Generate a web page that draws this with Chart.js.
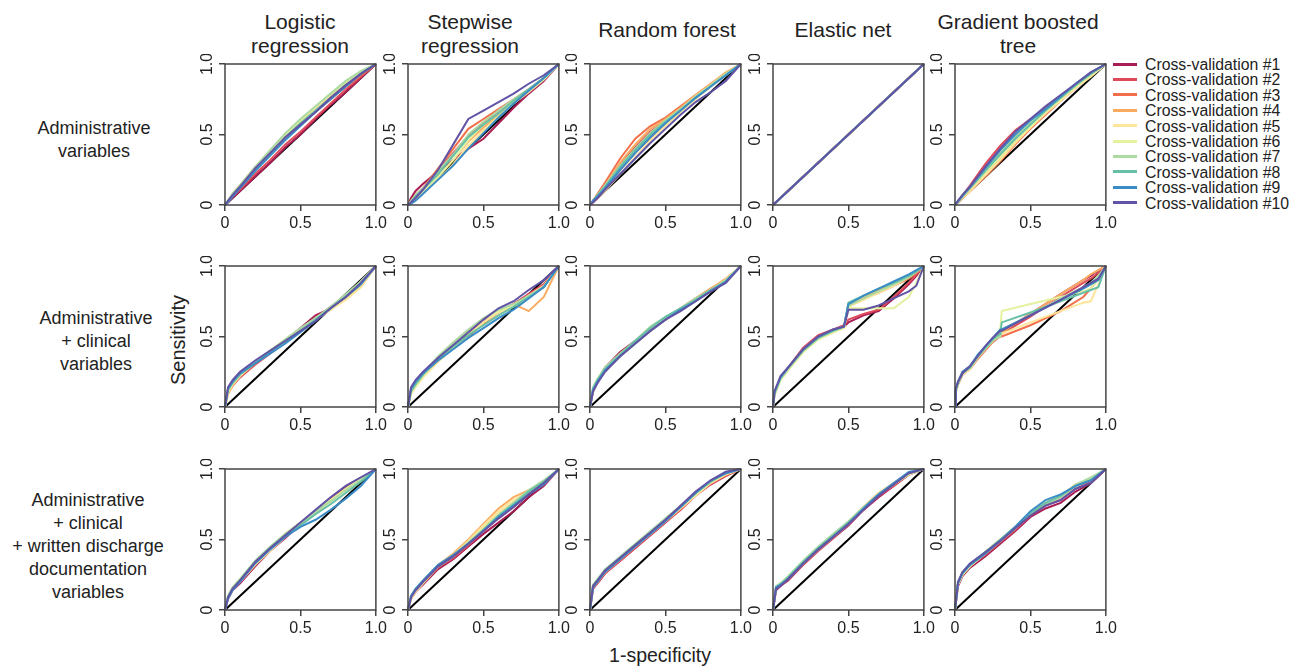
<!DOCTYPE html>
<html>
<head>
<meta charset="utf-8">
<script src="https://cdn.jsdelivr.net/npm/chart.js@4.4.1/dist/chart.umd.min.js"></script>
<style>
  body { margin: 0; background: #fff; }
  #fig { position: relative; width: 1298px; height: 667px; font-family: 'Liberation Sans', Arial, sans-serif; color: #222; }
  #fig div { position: absolute; white-space: nowrap; }
  #fig canvas { position: absolute; }
</style>
</head>
<body>
<div id="fig"></div>
<script>
// ---- data ----
const modelNames = ['Logistic\nregression', 'Stepwise\nregression', 'Random forest', 'Elastic net', 'Gradient boosted\ntree'];
const rowNames = ['Administrative\nvariables', 'Administrative\n+ clinical\nvariables', 'Administrative\n+ clinical\n+ written discharge\ndocumentation\nvariables'];
const cvLabels = ['Cross-validation #1', 'Cross-validation #2', 'Cross-validation #3', 'Cross-validation #4', 'Cross-validation #5',
  'Cross-validation #6', 'Cross-validation #7', 'Cross-validation #8', 'Cross-validation #9', 'Cross-validation #10'];
const tickValues = [0, 0.5, 1];
const tickLabels = ['0', '0.5', '1.0'];
const chanceLine = [0, 1];

// 1-specificity grid shared by most panels
const fprGrid = [0, .02, .05, .1, .2, .3, .4, .5, .6, .7, .8, .9, 1];
const fprDiag = [0, 1];
const fprClinEn = [0, .01, .05, .1, .2, .3, .4, .47, .5, .6, .7, .8, .9, .95, 1];
const fprClinGbt = [0, .005, .02, .05, .1, .15, .2, .25, .3, .31, .5, .7, .85, .9, .95, 1];

// sensitivity, one row per cross-validation fold
const tprAdmLr = [
  [0,.02,.05,.10,.20,.30,.41,.50,.61,.71,.80,.90,1],
  [0,.02,.06,.11,.22,.32,.43,.52,.62,.72,.82,.91,1],
  [0,.03,.07,.13,.25,.36,.47,.57,.66,.75,.84,.92,1],
  [0,.03,.08,.14,.27,.38,.49,.59,.68,.77,.86,.94,1],
  [0,.03,.07,.13,.25,.37,.48,.58,.68,.77,.86,.94,1],
  [0,.03,.07,.13,.26,.38,.50,.60,.70,.79,.87,.95,1],
  [0,.03,.08,.14,.27,.39,.51,.61,.70,.79,.88,.95,1],
  [0,.03,.07,.13,.25,.36,.48,.58,.67,.76,.85,.93,1],
  [0,.02,.06,.12,.24,.35,.46,.56,.66,.75,.84,.93,1],
  [0,.03,.07,.13,.26,.37,.48,.57,.66,.76,.85,.93,1]
];
const tprAdmSw = [
  [0,.05,.10,.15,.24,.32,.40,.47,.58,.69,.79,.88,1],
  [0,.03,.07,.12,.25,.37,.49,.58,.66,.74,.82,.90,1],
  [0,.03,.07,.12,.26,.40,.54,.61,.68,.75,.82,.90,1],
  [0,.02,.05,.10,.20,.32,.45,.55,.64,.73,.81,.90,1],
  [0,.01,.04,.09,.18,.29,.42,.53,.63,.72,.80,.89,1],
  [0,.02,.05,.10,.20,.32,.46,.57,.65,.73,.81,.89,1],
  [0,.03,.07,.12,.24,.36,.50,.59,.67,.75,.82,.90,1],
  [0,.02,.06,.11,.22,.35,.48,.57,.65,.74,.82,.90,1],
  [0,.01,.03,.08,.18,.28,.40,.51,.62,.72,.81,.90,1],
  [0,.02,.05,.11,.25,.43,.61,.67,.73,.79,.86,.92,1]
];
const tprAdmRf = [
  [0,.02,.05,.11,.25,.37,.48,.58,.68,.77,.85,.93,1],
  [0,.03,.07,.14,.29,.41,.52,.60,.68,.77,.85,.93,1],
  [0,.03,.08,.16,.33,.47,.56,.62,.70,.78,.86,.93,1],
  [0,.03,.07,.14,.30,.43,.54,.61,.69,.78,.86,.94,1],
  [0,.02,.05,.10,.22,.34,.46,.56,.66,.75,.84,.92,1],
  [0,.02,.06,.12,.25,.37,.49,.58,.67,.77,.85,.93,1],
  [0,.03,.07,.14,.28,.40,.51,.60,.68,.77,.85,.93,1],
  [0,.03,.07,.13,.27,.39,.50,.59,.67,.76,.84,.92,1],
  [0,.03,.06,.12,.25,.37,.48,.58,.67,.76,.84,.92,1],
  [0,.02,.05,.11,.22,.33,.44,.54,.64,.73,.80,.88,1]
];
const tprAdmEn = [
  [0,1],[0,1],[0,1],[0,1],[0,1],[0,1],[0,1],[0,1],[0,1],[0,1]
];
const tprAdmGbt = [
  [0,.02,.05,.11,.24,.36,.47,.57,.66,.75,.84,.92,1],
  [0,.03,.07,.14,.29,.42,.53,.61,.69,.77,.85,.93,1],
  [0,.02,.05,.10,.20,.31,.43,.54,.64,.74,.83,.92,1],
  [0,.02,.05,.10,.21,.33,.45,.55,.65,.75,.84,.92,1],
  [0,.02,.05,.10,.21,.32,.44,.55,.65,.74,.83,.91,1],
  [0,.03,.06,.12,.23,.34,.46,.56,.66,.75,.84,.92,1],
  [0,.03,.07,.13,.25,.37,.48,.58,.67,.76,.85,.93,1],
  [0,.02,.06,.12,.24,.36,.47,.57,.67,.76,.85,.93,1],
  [0,.03,.07,.13,.26,.39,.50,.60,.68,.77,.86,.94,1],
  [0,.03,.07,.13,.27,.40,.52,.61,.70,.78,.86,.94,1]
];

const tprClinLr = [
  [0,.11,.16,.22,.31,.39,.47,.56,.65,.70,.78,.87,1],
  [0,.10,.15,.21,.30,.38,.46,.55,.63,.71,.79,.87,1],
  [0,.12,.17,.23,.31,.39,.46,.54,.62,.70,.77,.86,1],
  [0,.09,.15,.22,.31,.40,.47,.54,.62,.69,.77,.85,1],
  [0,.10,.16,.22,.32,.40,.48,.55,.62,.69,.76,.85,1],
  [0,.11,.17,.23,.32,.40,.47,.55,.62,.70,.79,.89,1],
  [0,.12,.18,.24,.32,.40,.48,.56,.63,.71,.80,.89,1],
  [0,.12,.17,.23,.31,.39,.46,.54,.62,.70,.78,.87,1],
  [0,.13,.18,.24,.31,.38,.45,.53,.61,.70,.78,.87,1],
  [0,.14,.19,.25,.33,.40,.47,.54,.61,.70,.78,.88,1]
];
const tprClinSw = [
  [0,.12,.17,.23,.35,.44,.54,.62,.68,.73,.80,.87,1],
  [0,.11,.16,.23,.34,.44,.53,.61,.68,.73,.80,.87,1],
  [0,.12,.17,.24,.33,.42,.50,.59,.67,.72,.79,.86,1],
  [0,.10,.16,.23,.33,.42,.51,.60,.68,.73,.68,.78,1],
  [0,.09,.14,.21,.32,.42,.51,.60,.67,.72,.79,.86,1],
  [0,.10,.15,.22,.35,.45,.54,.62,.68,.72,.78,.85,1],
  [0,.12,.17,.24,.36,.46,.55,.63,.69,.73,.79,.85,1],
  [0,.11,.16,.23,.34,.43,.51,.58,.65,.71,.78,.85,1],
  [0,.13,.18,.24,.33,.41,.49,.56,.63,.69,.77,.85,1],
  [0,.14,.19,.25,.35,.44,.53,.62,.70,.75,.83,.90,1]
];
const tprClinRf = [
  [0,.12,.19,.28,.39,.47,.55,.62,.69,.76,.83,.90,1],
  [0,.11,.18,.27,.38,.46,.55,.62,.69,.76,.83,.90,1],
  [0,.12,.19,.27,.37,.46,.55,.63,.70,.77,.84,.90,1],
  [0,.11,.18,.26,.36,.45,.54,.62,.70,.77,.84,.91,1],
  [0,.12,.18,.26,.36,.45,.54,.62,.69,.76,.83,.90,1],
  [0,.13,.19,.27,.37,.46,.56,.63,.70,.76,.83,.90,1],
  [0,.14,.20,.28,.38,.47,.57,.64,.70,.77,.83,.90,1],
  [0,.13,.19,.27,.37,.47,.56,.64,.70,.76,.83,.89,1],
  [0,.12,.18,.26,.36,.45,.54,.62,.69,.75,.82,.89,1],
  [0,.11,.17,.25,.36,.45,.54,.62,.68,.75,.82,.88,1]
];
const tprClinEn = [
  [0,.09,.20,.27,.41,.50,.55,.57,.60,.65,.68,.77,.87,.93,1],
  [0,.10,.21,.28,.42,.51,.55,.58,.62,.66,.69,.78,.88,.94,1],
  [0,.09,.20,.27,.40,.49,.54,.57,.72,.77,.81,.86,.91,.95,1],
  [0,.10,.21,.27,.40,.49,.54,.56,.73,.78,.83,.88,.93,.96,1],
  [0,.09,.19,.26,.39,.48,.53,.56,.71,.76,.81,.86,.92,.96,1],
  [0,.08,.19,.26,.39,.48,.53,.56,.70,.70,.70,.70,.78,.88,1],
  [0,.09,.20,.27,.40,.49,.54,.57,.72,.77,.82,.87,.92,.96,1],
  [0,.10,.21,.28,.40,.49,.54,.57,.74,.79,.84,.88,.93,.96,1],
  [0,.11,.21,.28,.41,.50,.55,.57,.73,.79,.84,.89,.94,.97,1],
  [0,.11,.22,.28,.41,.50,.55,.57,.69,.69,.72,.77,.82,.86,1]
];
const tprClinGbt = [
  [0,.11,.16,.23,.28,.35,.41,.47,.52,.53,.66,.80,.90,.93,.97,1],
  [0,.12,.17,.24,.29,.36,.42,.48,.52,.52,.64,.78,.88,.91,.95,1],
  [0,.11,.16,.23,.27,.34,.40,.46,.50,.50,.58,.68,.78,.84,.91,1],
  [0,.12,.18,.25,.29,.36,.42,.49,.53,.53,.66,.80,.90,.94,.97,1],
  [0,.10,.16,.23,.27,.35,.41,.47,.52,.52,.60,.68,.74,.75,.87,1],
  [0,.11,.17,.24,.28,.36,.42,.48,.55,.68,.73,.78,.82,.84,.91,1],
  [0,.12,.17,.24,.28,.35,.41,.47,.50,.55,.65,.77,.85,.88,.93,1],
  [0,.11,.17,.24,.28,.36,.42,.48,.52,.60,.67,.75,.81,.83,.85,1],
  [0,.13,.18,.25,.29,.37,.43,.49,.55,.55,.65,.76,.84,.87,.90,1],
  [0,.13,.18,.24,.29,.36,.43,.49,.54,.54,.65,.76,.85,.88,.91,1]
];

const tprDocLr = [
  [0,.08,.14,.19,.31,.42,.51,.61,.70,.79,.87,.93,1],
  [0,.09,.14,.20,.32,.43,.52,.61,.69,.78,.86,.93,1],
  [0,.09,.15,.21,.33,.43,.53,.62,.70,.78,.86,.93,1],
  [0,.08,.14,.21,.33,.44,.54,.62,.70,.78,.85,.92,1],
  [0,.09,.15,.20,.32,.42,.52,.61,.69,.77,.85,.92,1],
  [0,.10,.16,.22,.34,.44,.53,.62,.70,.78,.86,.93,1],
  [0,.10,.16,.22,.35,.45,.54,.62,.70,.77,.85,.92,1],
  [0,.09,.15,.21,.34,.44,.53,.60,.68,.75,.83,.91,1],
  [0,.08,.14,.20,.33,.43,.52,.59,.64,.71,.79,.88,1],
  [0,.09,.15,.21,.34,.44,.53,.62,.71,.80,.88,.94,1]
];
const tprDocSw = [
  [0,.08,.13,.18,.29,.36,.45,.54,.62,.70,.80,.88,1],
  [0,.08,.13,.19,.30,.37,.46,.56,.65,.73,.82,.89,1],
  [0,.09,.14,.20,.31,.39,.48,.58,.68,.76,.84,.90,1],
  [0,.08,.14,.20,.32,.40,.50,.61,.72,.80,.85,.90,1],
  [0,.08,.13,.19,.31,.39,.49,.60,.70,.78,.84,.90,1],
  [0,.09,.14,.20,.31,.38,.48,.58,.68,.76,.84,.91,1],
  [0,.10,.15,.21,.32,.39,.48,.57,.67,.76,.85,.92,1],
  [0,.09,.14,.20,.31,.38,.47,.57,.67,.75,.84,.91,1],
  [0,.10,.15,.21,.32,.39,.47,.56,.66,.74,.82,.89,1],
  [0,.09,.14,.20,.31,.38,.47,.56,.65,.73,.82,.90,1]
];
const tprDocRf = [
  [0,.15,.19,.26,.35,.44,.53,.62,.72,.82,.90,.96,1],
  [0,.16,.19,.26,.35,.44,.53,.62,.71,.81,.89,.95,1],
  [0,.16,.20,.27,.36,.45,.54,.63,.72,.82,.90,.96,1],
  [0,.17,.21,.28,.37,.46,.55,.64,.73,.83,.91,.97,1],
  [0,.16,.20,.27,.36,.45,.54,.63,.72,.81,.90,.96,1],
  [0,.17,.21,.28,.37,.46,.55,.64,.73,.82,.91,.97,1],
  [0,.18,.22,.29,.38,.47,.56,.65,.74,.83,.91,.97,1],
  [0,.17,.21,.28,.37,.46,.55,.64,.73,.83,.91,.97,1],
  [0,.16,.20,.27,.36,.45,.54,.63,.73,.83,.92,.97,1],
  [0,.17,.21,.28,.37,.46,.55,.64,.74,.84,.92,.98,1]
];
const tprDocEn = [
  [0,.14,.17,.21,.32,.42,.51,.60,.71,.80,.88,.96,1],
  [0,.15,.17,.22,.32,.42,.51,.61,.71,.81,.88,.96,1],
  [0,.16,.18,.22,.33,.43,.52,.61,.72,.82,.89,.97,1],
  [0,.16,.18,.23,.34,.44,.53,.62,.73,.83,.90,.97,1],
  [0,.15,.18,.22,.33,.43,.52,.61,.72,.83,.90,.97,1],
  [0,.16,.19,.23,.34,.44,.53,.62,.72,.82,.89,.96,1],
  [0,.17,.19,.24,.35,.45,.54,.63,.73,.82,.89,.97,1],
  [0,.16,.18,.23,.34,.44,.53,.62,.72,.82,.89,.97,1],
  [0,.16,.18,.22,.33,.43,.52,.61,.72,.82,.90,.98,1],
  [0,.15,.17,.22,.33,.43,.52,.61,.71,.81,.89,.97,1]
];
const tprDocGbt = [
  [0,.17,.24,.30,.38,.47,.56,.66,.72,.76,.84,.90,1],
  [0,.18,.25,.31,.39,.48,.57,.67,.74,.78,.86,.91,1],
  [0,.19,.26,.32,.40,.49,.58,.68,.75,.80,.88,.93,1],
  [0,.18,.25,.32,.41,.50,.59,.69,.76,.81,.89,.93,1],
  [0,.19,.26,.32,.41,.50,.59,.69,.76,.81,.89,.92,1],
  [0,.18,.25,.31,.40,.49,.58,.68,.75,.80,.88,.93,1],
  [0,.19,.26,.32,.41,.49,.58,.68,.75,.80,.89,.94,1],
  [0,.20,.27,.33,.41,.50,.59,.69,.76,.81,.88,.92,1],
  [0,.19,.26,.32,.40,.49,.59,.70,.78,.82,.88,.92,1],
  [0,.20,.27,.33,.41,.49,.58,.67,.74,.78,.86,.90,1]
];

// ---- styling / layout ----
const cvColors = ['#a81d55', '#df4a5a', '#f36f4a', '#fbab60', '#fde59a',
  '#e4f19f', '#acdaa3', '#67c0a6', '#3a8cc6', '#6153a5'];
const fontFamily = "'Liberation Sans', Arial, sans-serif";
const axisColor = '#444';

const panels = [
  [[fprGrid, tprAdmLr], [fprGrid, tprAdmSw], [fprGrid, tprAdmRf], [fprDiag, tprAdmEn], [fprGrid, tprAdmGbt]],
  [[fprGrid, tprClinLr], [fprGrid, tprClinSw], [fprGrid, tprClinRf], [fprClinEn, tprClinEn], [fprClinGbt, tprClinGbt]],
  [[fprGrid, tprDocLr], [fprGrid, tprDocSw], [fprGrid, tprDocRf], [fprGrid, tprDocEn], [fprGrid, tprDocGbt]]
];

const plotLeft = [225, 408, 590, 773, 955];
const plotTop = [64, 266, 469];
const plotW = 151, plotH = 141;
const yAxisW = 35, xAxisH = 30, padTop = 10, padRight = 14;

const fig = document.getElementById('fig');

function addText(text, css) {
  const d = document.createElement('div');
  d.textContent = text;
  Object.assign(d.style, css);
  fig.appendChild(d);
  return d;
}

// column titles
const titleCenters = [300, 470, 667, 843, 1018];
modelNames.forEach((name, c) => {
  const lines = name.split('\n');
  lines.forEach((ln, k) => {
    const y = lines.length === 1 ? 30 : 22 + k * 24;
    addText(ln, { left: titleCenters[c] + 'px', top: y + 'px', transform: 'translate(-50%,-50%)', fontSize: '21px' });
  });
});

// row labels
const rowCenters = [[94, 139], [96, 341], [88, 546]];
rowNames.forEach((name, r) => {
  const lines = name.split('\n');
  const [cx, cy] = rowCenters[r];
  lines.forEach((ln, k) => {
    const y = cy + (k - (lines.length - 1) / 2) * 23;
    addText(ln, { left: cx + 'px', top: y + 'px', transform: 'translate(-50%,-50%)', fontSize: '18px' });
  });
});

addText('Sensitivity', { left: '178px', top: '340px', transform: 'translate(-50%,-50%) rotate(-90deg)', fontSize: '20px' });
addText('1-specificity', { left: '660px', top: '655px', transform: 'translate(-50%,-50%)', fontSize: '19.5px' });

// legend
cvLabels.forEach((lab, i) => {
  const y = 64 + i * 15.4;
  const sw = document.createElement('div');
  Object.assign(sw.style, { left: '1113px', top: (y - 1.5) + 'px', width: '24px', height: '3px', background: cvColors[i] });
  fig.appendChild(sw);
  addText(lab, { left: '1145px', top: y + 'px', transform: 'translateY(-50%)', fontSize: '15.8px', lineHeight: '15px' });
});

// box around each plot area
const framePlugin = {
  id: 'frame',
  afterDraw(chart) {
    const { ctx, chartArea: a } = chart;
    ctx.save();
    ctx.strokeStyle = axisColor;
    ctx.lineWidth = 1.5;
    ctx.strokeRect(a.left, a.top, a.right - a.left, a.bottom - a.top);
    ctx.restore();
  }
};

function axisOpts(isY) {
  return {
    type: 'linear', min: 0, max: 1,
    afterBuildTicks: s => { s.ticks = tickValues.map(v => ({ value: v })); },
    afterFit: s => { if (isY) s.width = yAxisW; else s.height = xAxisH; },
    ticks: {
      callback: (v, i) => tickLabels[i],
      color: '#222',
      font: { size: 16, family: fontFamily },
      padding: isY ? 0 : 3,
      autoSkip: false,
      minRotation: isY ? 90 : 0,
      maxRotation: isY ? 90 : 0,
      crossAlign: isY ? 'center' : 'near'
    },
    grid: { drawOnChartArea: false, drawTicks: true, tickLength: 6, color: axisColor, lineWidth: 1.5 },
    border: { display: false }
  };
}

function makePanel(r, c) {
  const [fpr, tprSets] = panels[r][c];
  const cv = document.createElement('canvas');
  const w = yAxisW + plotW + padRight, h = padTop + plotH + xAxisH;
  cv.width = w; cv.height = h;
  Object.assign(cv.style, { left: (plotLeft[c] - yAxisW) + 'px', top: (plotTop[r] - padTop) + 'px', width: w + 'px', height: h + 'px' });
  fig.appendChild(cv);

  const datasets = tprSets.map((tpr, i) => ({
    label: cvLabels[i],
    data: fpr.map((x, k) => ({ x: x, y: tpr[k] })),
    borderColor: cvColors[i],
    borderWidth: 2,
    order: 10 - i
  }));
  datasets.push({
    label: 'chance',
    data: chanceLine.map(v => ({ x: v, y: v })),
    borderColor: '#000',
    borderWidth: 2,
    order: 20
  });

  new Chart(cv, {
    type: 'line',
    data: { datasets },
    options: {
      responsive: false,
      animation: false,
      events: [],
      clip: false,
      elements: { point: { radius: 0 }, line: { tension: 0 } },
      layout: { autoPadding: false, padding: { left: 0, top: padTop, right: padRight, bottom: 0 } },
      plugins: { legend: { display: false }, tooltip: { enabled: false } },
      scales: { x: axisOpts(false), y: axisOpts(true) }
    },
    plugins: [framePlugin]
  });
}

for (let r = 0; r < 3; r++) {
  for (let c = 0; c < 5; c++) makePanel(r, c);
}
</script>
</body>
</html>
